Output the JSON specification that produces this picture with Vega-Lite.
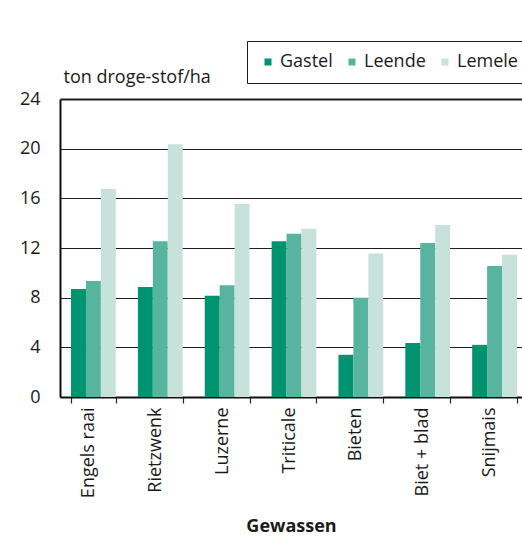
{
  "$schema": "https://vega.github.io/schema/vega-lite/v6.json",
  "width": 462,
  "height": 298,
  "autosize": {"type": "none"},
  "padding": {"left": 60, "top": 99, "right": 0, "bottom": 139},
  "background": "#ffffff",
  "data": {
    "values": [
      {"gewas": "Engels raai", "locatie": "Gastel", "opbrengst": 8.7},
      {"gewas": "Engels raai", "locatie": "Leende", "opbrengst": 9.35},
      {"gewas": "Engels raai", "locatie": "Lemele", "opbrengst": 16.75},
      {"gewas": "Rietzwenk", "locatie": "Gastel", "opbrengst": 8.85},
      {"gewas": "Rietzwenk", "locatie": "Leende", "opbrengst": 12.55},
      {"gewas": "Rietzwenk", "locatie": "Lemele", "opbrengst": 20.35},
      {"gewas": "Luzerne", "locatie": "Gastel", "opbrengst": 8.15},
      {"gewas": "Luzerne", "locatie": "Leende", "opbrengst": 9.0},
      {"gewas": "Luzerne", "locatie": "Lemele", "opbrengst": 15.55},
      {"gewas": "Triticale", "locatie": "Gastel", "opbrengst": 12.55},
      {"gewas": "Triticale", "locatie": "Leende", "opbrengst": 13.15},
      {"gewas": "Triticale", "locatie": "Lemele", "opbrengst": 13.55},
      {"gewas": "Bieten", "locatie": "Gastel", "opbrengst": 3.4},
      {"gewas": "Bieten", "locatie": "Leende", "opbrengst": 8.0},
      {"gewas": "Bieten", "locatie": "Lemele", "opbrengst": 11.55},
      {"gewas": "Biet + blad", "locatie": "Gastel", "opbrengst": 4.35},
      {"gewas": "Biet + blad", "locatie": "Leende", "opbrengst": 12.4},
      {"gewas": "Biet + blad", "locatie": "Lemele", "opbrengst": 13.85},
      {"gewas": "Snijmais", "locatie": "Gastel", "opbrengst": 4.2},
      {"gewas": "Snijmais", "locatie": "Leende", "opbrengst": 10.55},
      {"gewas": "Snijmais", "locatie": "Lemele", "opbrengst": 11.45}
    ]
  },
  "mark": {"type": "bar"},
  "encoding": {
    "x": {
      "field": "gewas",
      "type": "nominal",
      "sort": ["Engels raai", "Rietzwenk", "Luzerne", "Triticale", "Bieten", "Biet + blad", "Snijmais"],
      "scale": {"range": [0, 468], "paddingInner": 0.33, "paddingOuter": 0.165},
      "axis": {
        "title": "Gewassen",
        "titleFontWeight": "bold",
        "titleFontSize": 18,
        "titleBaseline": "alphabetic",
        "titleY": 134,
        "titleX": 231,
        "titleAnchor": "middle",
        "labelAngle": -90,
        "labelAlign": "right",
        "labelBaseline": "alphabetic",
        "labelPadding": 4,
        "tickSize": 6,
        "tickBand": "extent",
        "tickColor": "#222222",
        "tickWidth": 1.2
      }
    },
    "xOffset": {
      "field": "locatie",
      "type": "nominal",
      "sort": ["Gastel", "Leende", "Lemele"],
      "scale": {"paddingInner": 0, "paddingOuter": 0}
    },
    "y": {
      "field": "opbrengst",
      "type": "quantitative",
      "scale": {"domain": [0, 24], "nice": false},
      "axis": {
        "title": "ton droge-stof/ha",
        "titleAngle": 0,
        "titleAlign": "left",
        "titleBaseline": "alphabetic",
        "titleX": 3,
        "titleY": -17,
        "titleFontWeight": "normal",
        "titleFontSize": 18,
        "values": [0, 4, 8, 12, 16, 20, 24],
        "grid": true,
        "gridColor": "#1e1e1e",
        "gridWidth": {"condition": {"test": "datum.value === 24", "value": 2}, "value": 1},
        "ticks": false,
        "tickSize": 0,
        "labelPadding": 20
      }
    },
    "color": {
      "field": "locatie",
      "type": "nominal",
      "scale": {"domain": ["Gastel", "Leende", "Lemele"], "range": ["#00936f", "#57b59f", "#c6e2da"]},
      "legend": {
        "title": null,
        "orient": "none",
        "direction": "horizontal",
        "legendX": 187,
        "legendY": -58,
        "strokeColor": "#1a1a1a",
        "padding": 12,
        "symbolType": "square",
        "symbolSize": 49,
        "symbolStrokeWidth": 0,
        "symbolOpacity": 1,
        "labelFontSize": 18,
        "labelOffset": 3,
        "columnPadding": 10,
        "labelColor": "#1a1a1a"
      }
    }
  },
  "config": {
    "font": "Open Sans",
    "view": {"stroke": null},
    "axis": {
      "labelFont": "Open Sans",
      "titleFont": "Open Sans",
      "labelFontSize": 18,
      "labelColor": "#1a1a1a",
      "titleColor": "#1a1a1a",
      "domainColor": "#111111",
      "domainWidth": 2
    },
    "legend": {"labelFont": "Open Sans"}
  }
}
